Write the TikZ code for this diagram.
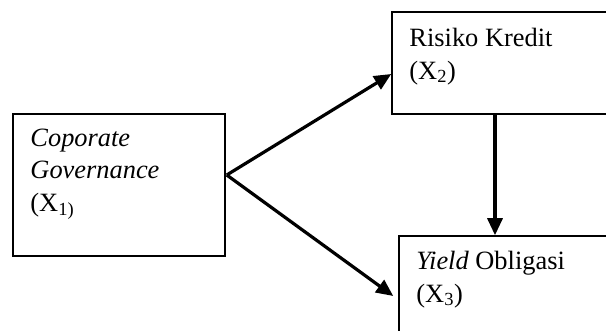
\documentclass[tikz,border=0pt]{standalone}
\usepackage{fontspec}
\setmainfont{Liberation Serif}
\usetikzlibrary{arrows.meta,calc}
\begin{document}
\begin{tikzpicture}[x=1pt,y=-1pt,
  boxstyle/.style={draw=black,line width=1.5pt,rectangle,inner sep=0pt},
  lbl/.style={anchor=base west,inner sep=0pt,align=left,
    font=\fontsize{26.4}{32.5}\selectfont},
  conn/.style={line width=3.2pt,-{Triangle[length=17pt,width=15pt]}}]
\useasboundingbox (0,0) rectangle (606,331);
\node[boxstyle,minimum width=212pt,minimum height=142pt] (b1) at (119,185) {};
\node[boxstyle,minimum width=220pt,minimum height=102pt] (b2) at (502,63) {};
\node[boxstyle,minimum width=213pt,minimum height=104pt] (b3) at (505.5,288) {};
\node[lbl] (t1) at ($(b1.north west)+(18,98)$) {\textit{Coporate}\\\textit{Governance}\\(X\textsubscript{1)}};
\node[lbl] (t2) at ($(b2.north west)+(18,68)$) {Risiko Kredit\\(X\textsubscript{2})};
\node[lbl] (t3) at ($(b3.north west)+(18,67)$) {\textit{Yield} Obligasi\\(X\textsubscript{3})};
\coordinate (fork) at ([xshift=1pt,yshift=10pt]b1.east);
\draw[conn] (fork) -- ([yshift=-11pt]b2.west);
\draw[conn] (fork) -- ([xshift=-5pt,yshift=-8pt]b3.west);
\draw[conn] ([xshift=-7pt]b2.south) -- ([xshift=-7pt]b2.south |- b3.north);
\end{tikzpicture}
\end{document}
